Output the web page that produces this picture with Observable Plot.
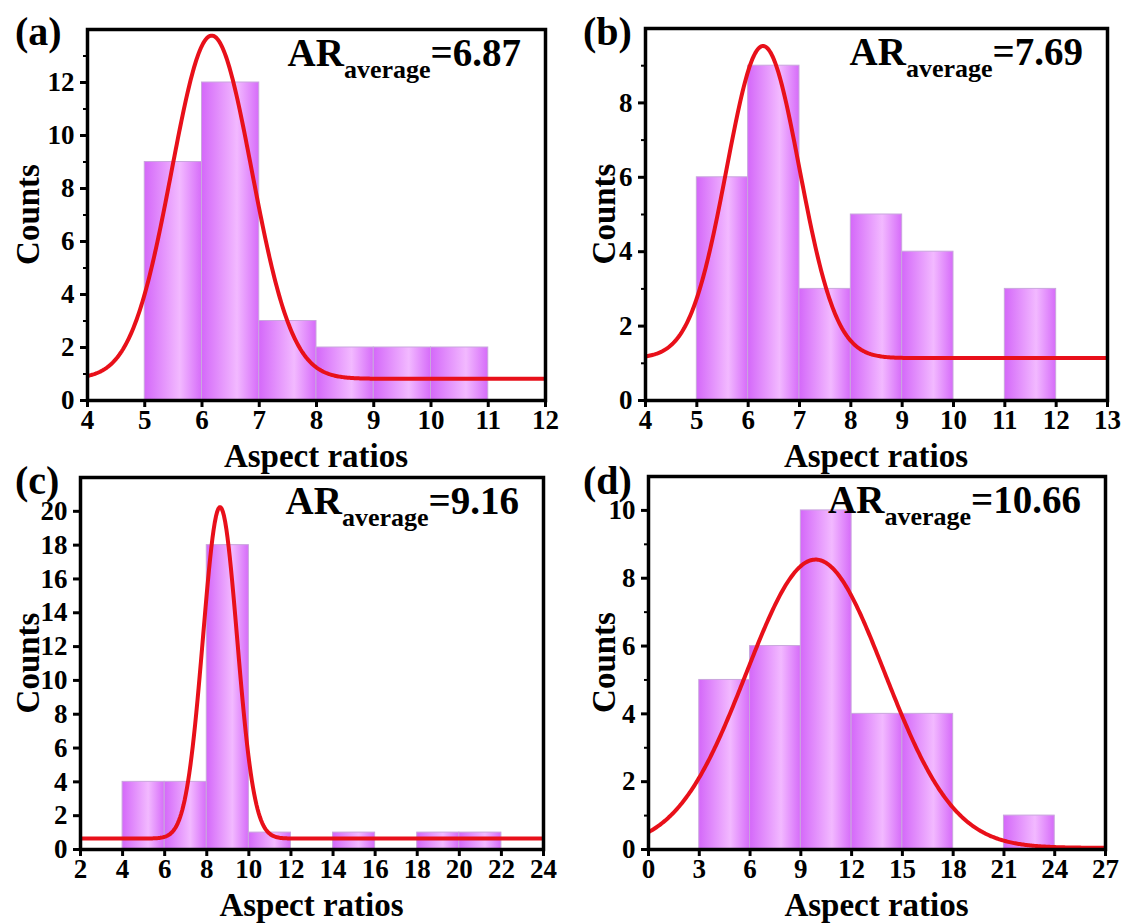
<!DOCTYPE html>
<html><head><meta charset="utf-8">
<script src="https://cdn.jsdelivr.net/npm/d3@7"></script>
<script src="https://cdn.jsdelivr.net/npm/@observablehq/plot@0.6"></script>
<style>
body{margin:0;background:#fff;}
#wrap{position:relative;width:1123px;height:923px;overflow:hidden;background:#fff;}
#wrap svg{position:absolute;overflow:visible;}
</style></head><body><div id="wrap"></div>
<script>
// ---- data ----
const panelLetters = ["(a)", "(b)", "(c)", "(d)"];
const arValues = ["6.87", "7.69", "9.16", "10.66"];

const edgesA = [5, 6, 7, 8, 9, 10, 11];
const countsA = [9, 12, 3, 2, 2, 2];
const edgesB = [5, 6, 7, 8, 9, 10, 11, 12];
const countsB = [6, 9, 3, 5, 4, 0, 3];
const edgesC = [4, 6, 8, 10, 12, 14, 16, 18, 20, 22];
const countsC = [4, 4, 18, 1, 0, 1, 0, 1, 1];
const edgesD = [3, 6, 9, 12, 15, 18, 21, 24];
const countsD = [5, 6, 10, 4, 4, 0, 1];

// Gaussian fit parameters
const fitY0 = [0.82, 1.14, 0.65, 0.05];
const fitXc = [6.17, 6.29, 8.63, 9.87];
const fitW = [0.70, 0.71, 0.81, 4.09];
const fitAmp = [12.95, 8.39, 19.6, 8.5];

const xDomains = [[4, 12], [4, 13], [2, 24], [0, 27]];
const yDomains = [[0, 14], [0, 10], [0, 22], [0, 11]];
const xTicksA = [4, 5, 6, 7, 8, 9, 10, 11, 12];
const xTicksB = [4, 5, 6, 7, 8, 9, 10, 11, 12, 13];
const xTicksC = [2, 4, 6, 8, 10, 12, 14, 16, 18, 20, 22, 24];
const xTicksD = [0, 3, 6, 9, 12, 15, 18, 21, 24, 27];
const yTicksA = [0, 2, 4, 6, 8, 10, 12];
const yTicksB = [0, 2, 4, 6, 8];
const yTicksC = [0, 2, 4, 6, 8, 10, 12, 14, 16, 18, 20];
const yTicksD = [0, 2, 4, 6, 8, 10];
const yMinorA = [1, 3, 5, 7, 9, 11, 13];
const yMinorB = [1, 3, 5, 7, 9];
const yMinorC = [];
const yMinorD = [1, 3, 5, 7, 9];

const xLabel = "Aspect ratios";
const yLabel = "Counts";

// ---- layout ----
const layout = [
  {left: 0,   top: 0,   width: 561, height: 470, mL: 87, mR: 16, mT: 29, mB: 70, lx: 15, ly: 45, cOff: 60},
  {left: 561, top: 0,   width: 562, height: 470, mL: 84, mR: 16, mT: 28, mB: 70, lx: 22, ly: 45, cOff: 42},
  {left: 0,   top: 460, width: 561, height: 463, mL: 80, mR: 18, mT: 17, mB: 74, lx: 15, ly: 34, cOff: 53},
  {left: 561, top: 460, width: 562, height: 463, mL: 87, mR: 18, mT: 16, mB: 74, lx: 22, ly: 34, cOff: 45}
];

const edges = [edgesA, edgesB, edgesC, edgesD];
const counts = [countsA, countsB, countsC, countsD];
const xTicks = [xTicksA, xTicksB, xTicksC, xTicksD];
const yTicks = [yTicksA, yTicksB, yTicksC, yTicksD];
const yMinor = [yMinorA, yMinorB, yMinorC, yMinorD];

const FONT = "'Liberation Serif', 'Times New Roman', Times, serif";
const TICKFONT = 27;
const wrap = document.getElementById("wrap");

for (let i = 0; i < 4; i++) {
  const L = layout[i];
  const bars = counts[i].map((c, j) => ({x1: edges[i][j], x2: edges[i][j + 1], y: c})).filter(d => d.y > 0);
  const [xa, xb] = xDomains[i];
  const n = 400;
  const curve = d3.range(n + 1).map(k => {
    const x = xa + (xb - xa) * k / n;
    return {x, y: fitY0[i] + fitAmp[i] * Math.exp(-((x - fitXc[i]) ** 2) / (2 * fitW[i] ** 2))};
  });
  const gid = "grad" + i;
  const plot = Plot.plot({
    width: L.width, height: L.height,
    marginLeft: L.mL, marginRight: L.mR, marginTop: L.mT, marginBottom: L.mB,
    x: {domain: xDomains[i]},
    y: {domain: yDomains[i]},
    style: {fontFamily: FONT, fontWeight: "bold", fontSize: TICKFONT + "px", color: "black", background: "transparent", overflow: "visible"},
    marks: [
      Plot.rect(bars, {x1: "x1", x2: "x2", y1: 0, y2: "y", fill: `url(#${gid})`, stroke: "#c9a6dd", strokeWidth: 1}),
      Plot.line(curve, {x: "x", y: "y", stroke: "#e8101a", strokeWidth: 4, clip: true}),
      Plot.frame({stroke: "black", strokeWidth: 3.5}),
      Plot.axisX({ticks: xTicks[i], tickSize: 7, strokeWidth: 3, tickPadding: 2, label: null, fontSize: TICKFONT, tickFormat: d => String(d)}),
      Plot.axisY({ticks: yTicks[i], tickSize: 7, strokeWidth: 3, tickPadding: 6, label: null, fontSize: TICKFONT, tickFormat: d => String(d)}),
      Plot.axisY({ticks: yMinor[i], tickSize: 4, strokeWidth: 2, text: null, label: null})
    ]
  });
  const svg = d3.select(plot);
  svg.style("left", L.left + "px").style("top", L.top + "px");
  const grad = svg.insert("defs", ":first-child").append("linearGradient").attr("id", gid)
    .attr("x1", "0%").attr("x2", "100%").attr("y1", "0%").attr("y2", "0%");
  grad.append("stop").attr("offset", "0%").attr("stop-color", "#d468f9");
  grad.append("stop").attr("offset", "62%").attr("stop-color", "#f2b9ff");
  grad.append("stop").attr("offset", "100%").attr("stop-color", "#d66cf9");

  const fx1 = L.mL, fx2 = L.width - L.mR, fy1 = L.mT, fy2 = L.height - L.mB;
  // AR label
  const t = svg.append("text").attr("x", fx2 - 24).attr("y", fy1 + 37)
    .attr("text-anchor", "end").attr("font-family", FONT).attr("font-weight", "bold").attr("font-size", 39).attr("fill", "black");
  t.append("tspan").text("AR");
  t.append("tspan").attr("font-size", 26).attr("dy", 12).text("average");
  t.append("tspan").attr("dy", -12).text("=" + arValues[i]);
  // axis labels
  svg.append("text").attr("x", (fx1 + fx2) / 2).attr("y", fy2 + 67).attr("text-anchor", "middle")
    .attr("font-family", FONT).attr("font-weight", "bold").attr("font-size", 33).attr("fill", "black").text(xLabel);
  svg.append("text").attr("transform", `translate(${fx1 - L.cOff},${(fy1 + fy2) / 2}) rotate(-90)`).attr("dy", "0.35em")
    .attr("text-anchor", "middle").attr("font-family", FONT).attr("font-weight", "bold").attr("font-size", 33).attr("fill", "black").text(yLabel);
  // panel letter
  svg.append("text").attr("x", L.lx).attr("y", L.ly).attr("text-anchor", "start").attr("font-family", FONT).attr("font-weight", "bold")
    .attr("font-size", 40).attr("fill", "black").text(panelLetters[i]);
  wrap.appendChild(plot);
}
</script></body></html>
